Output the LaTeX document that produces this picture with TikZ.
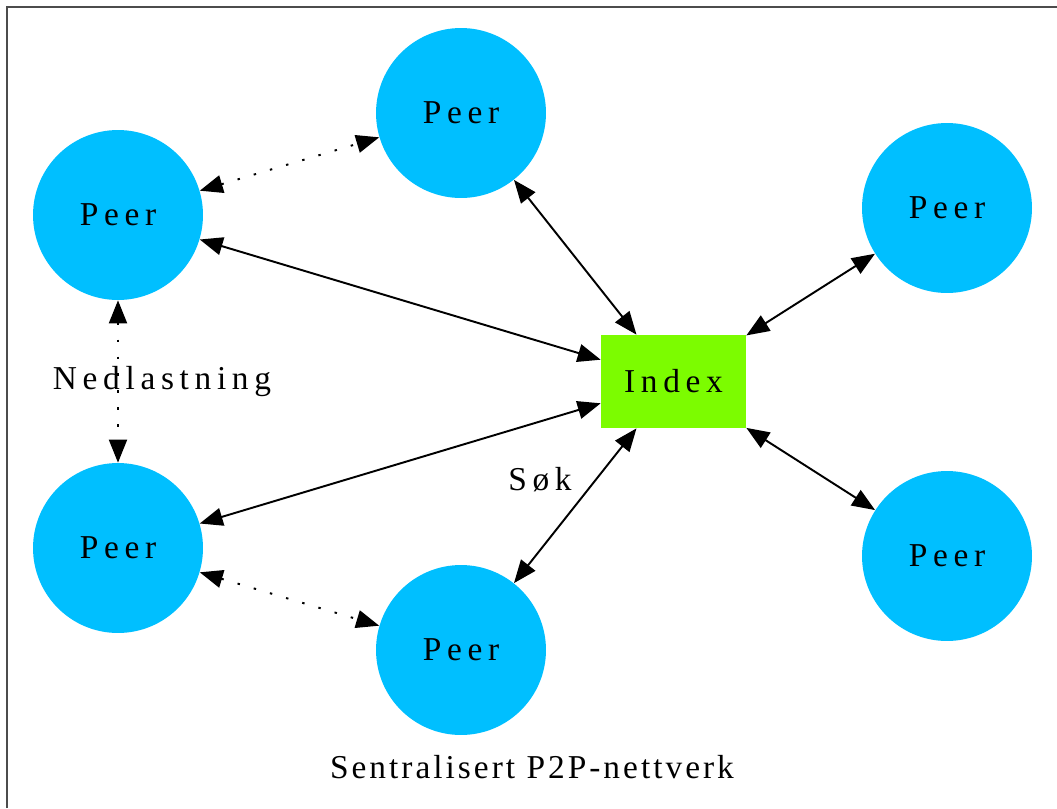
\documentclass[tikz,border=0pt]{standalone}
\usepackage{fontspec}
\setmainfont{Liberation Serif}[LetterSpace=17]
\newfontfamily\titlefont{Liberation Serif}[LetterSpace=9]
\usepackage{xcolor}
\usetikzlibrary{arrows.meta}
\definecolor{peerblue}{HTML}{00BFFF}
\definecolor{indexgreen}{HTML}{7CFC00}

\begin{document}
\begin{tikzpicture}[x=0.02cm, y=-0.02cm, font=\fontsize{19}{23}\selectfont,
    peer/.style={fill=peerblue, circle, inner sep=0pt, minimum size=3.4cm},
    index/.style={fill=indexgreen, rectangle, inner sep=0pt, minimum width=2.9cm, minimum height=1.86cm},
    link/.style={{Triangle[length=0.46cm,width=0.36cm]}-{Triangle[length=0.46cm,width=0.36cm]}, line width=1.1pt},
    share/.style={link, dash pattern=on 1.4pt off 8.2pt}]
    \useasboundingbox (0,0) rectangle (1057,808);
    % Draw the frame
    \draw[line width=1.1pt, black!70] (7,808) -- (7,7) -- (1057,7);
    % Draw the index and the peers
    \node[index] (idx) at (673.5,381.5) {Index};
    \node[peer] (ptop) at (461,113) {Peer};
    \node[peer] (plt) at (118,215) {Peer};
    \node[peer] (plb) at (118,548) {Peer};
    \node[peer] (pbot) at (461,650) {Peer};
    \node[peer] (prt) at (947,208) {Peer};
    \node[peer] (prb) at (947,556) {Peer};
    % Draw the edges to the index
    \draw[link] (ptop) -- (idx);
    \draw[link] (plt) -- (idx);
    \draw[link] (plb) -- (idx);
    \draw[link] (pbot) -- (idx);
    \draw[link] (prt) -- (idx);
    \draw[link] (prb) -- (idx);
    % Draw the dotted edges between peers
    \draw[share] (plt) -- (ptop);
    \draw[share] (plt) -- (plb);
    \draw[share] (plb) -- (pbot);
    % Draw the labels
    \node (nedl) at (162,382) {Nedlastning};
    \node (sok) at (540,480) {Søk};
    \node[font=\titlefont\fontsize{19}{23}\selectfont] (title) at (532,767) {Sentralisert P2P-nettverk};
\end{tikzpicture}
\end{document}
